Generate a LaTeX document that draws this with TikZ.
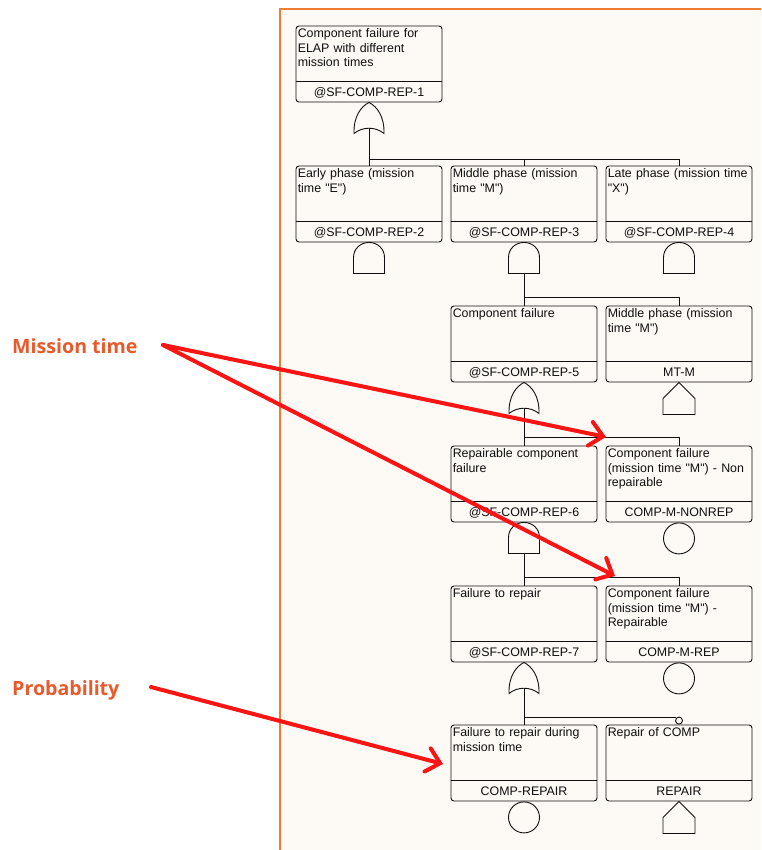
\documentclass[tikz,border=0pt]{standalone}
\usepackage{fontspec}
\newfontfamily\boxfont{Liberation Sans}
\newfontfamily\lblfont{Open Sans}
\usetikzlibrary{calc,arrows.meta}
\definecolor{panelbg}{RGB}{253,249,245}
\definecolor{panelline}{RGB}{237,125,49}
\definecolor{lblcol}{RGB}{232,90,43}
\definecolor{arrowred}{RGB}{250,20,20}
\definecolor{ink}{RGB}{15,15,15}
\tikzset{
 ftbox/.style={draw=ink, line width=0.9pt, rounded corners=3pt, minimum width=146pt, minimum height=76pt, inner sep=0pt, fill=panelbg},
 desc/.style={inner sep=0pt, text width=144pt, align=left, font=\boxfont\fontsize{12.4}{14.3}\selectfont, text=ink},
 idtxt/.style={inner sep=0pt, font=\boxfont\fontsize{12.4}{14.3}\selectfont, text=ink},
 conn/.style={draw=ink, line width=0.9pt},
 gateline/.style={draw=ink, line width=0.9pt, fill=panelbg},
 orgate/.pic={\draw[gateline] (-15,-31) .. controls (-15.5,-14) and (-8,-4) .. (0,0) .. controls (8,-4) and (15.5,-14) .. (15,-31) .. controls (6,-24) and (-6,-24) .. cycle; \coordinate (-out) at (0,-25.8);},
 andgate/.pic={\draw[gateline] (-15.5,-31) -- (-15.5,-15) .. controls (-15.5,-6.4) and (-8.6,0) .. (0,0) .. controls (8.6,0) and (15.5,-6.4) .. (15.5,-15) -- (15.5,-31) -- cycle; \coordinate (-out) at (0,-31);},
 housegate/.pic={\draw[gateline] (0,0) -- (16,-16) -- (16,-32) -- (-16,-32) -- (-16,-16) -- cycle;},
 basicev/.style={draw=ink, line width=0.9pt, circle, minimum size=31pt, inner sep=0pt, anchor=north},
 lbl/.style={inner sep=0pt, font=\lblfont\bfseries\fontsize{19.6}{24}\selectfont, text=lblcol, anchor=base west},
 redarrow/.style={draw=arrowred, line width=4pt, line cap=round, -{Straight Barb[length=13pt,width=24pt,line cap=round]}},
}
\newcommand\ftnode[5]{%
 \node[ftbox] (#1) at (#2,-#3-38) {};
 \draw[conn] ([yshift=21pt]#1.south west) -- ([yshift=21pt]#1.south east);
 \node[desc, anchor=north west] (#1d) at ([xshift=2pt,yshift=-3pt]#1.north west) {#4};
 \node[idtxt, anchor=base] (#1i) at ([yshift=5.5pt]#1.south) {#5};
}
\begin{document}
\begin{tikzpicture}[x=1pt,y=1pt]
\useasboundingbox (0,0) rectangle (761,-850);
\fill[white] (0,0) rectangle (761,-850);
\fill[panelbg] (280,-9) rectangle (761,-850);
\draw[panelline, line width=2pt] (280,-850) -- (280,-8.7) -- (761,-8.7);

% boxes
\ftnode{b1}{369}{26}{Component failure for\\ELAP with different\\mission times}{@SF-COMP-REP-1}
\ftnode{b2}{369}{166}{Early phase (mission\\time "E")}{@SF-COMP-REP-2}
\ftnode{b3}{524}{166}{Middle phase (mission\\time "M")}{@SF-COMP-REP-3}
\ftnode{b4}{679}{166}{Late phase (mission time\\"X")}{@SF-COMP-REP-4}
\ftnode{b5}{524}{306}{Component failure}{@SF-COMP-REP-5}
\ftnode{b6}{679}{306}{Middle phase (mission\\time "M")}{MT-M}
\ftnode{b7}{524}{446}{Repairable component\\failure}{@SF-COMP-REP-6}
\ftnode{b8}{679}{446}{Component failure\\(mission time "M") - Non\\repairable}{COMP-M-NONREP}
\ftnode{b9}{524}{586}{Failure to repair}{@SF-COMP-REP-7}
\ftnode{b10}{679}{586}{Component failure\\(mission time "M") -\\Repairable}{COMP-M-REP}
\ftnode{b11}{524}{725}{Failure to repair during\\mission time}{COMP-REPAIR}
\ftnode{b12}{679}{725}{Repair of COMP}{REPAIR}

% gates and events
\pic (g1) at (b1.south) {orgate};
\pic (g2) at (b2.south) {andgate};
\pic (g3) at (b3.south) {andgate};
\pic (g4) at (b4.south) {andgate};
\pic (g5) at (b5.south) {orgate};
\pic (h6) at (b6.south) {housegate};
\pic (g7) at (b7.south) {andgate};
\node[basicev] (e8) at (b8.south) {};
\pic (g9) at (b9.south) {orgate};
\node[basicev] (e10) at (b10.south) {};
\node[basicev] (e11) at (b11.south) {};
\pic (h12) at (b12.south) {housegate};
\node[draw=ink, line width=0.9pt, circle, minimum size=7pt, inner sep=0pt, anchor=south, fill=panelbg] (inh) at (b12.north) {};

% connectors
\draw[conn] (g1-out) -- (b2.north);
\draw[conn] (g1-out) |- ($(b4.north)+(0,6)$) -- (b4.north);
\draw[conn] ($(b3.north)+(0,6)$) -- (b3.north);
\draw[conn] (g3-out) -- (b5.north);
\draw[conn] (g3-out) |- ($(b6.north)+(0,8)$) -- (b6.north);
\draw[conn] (g5-out) -- (b7.north);
\draw[conn] (g5-out) |- ($(b8.north)+(0,8)$) -- (b8.north);
\draw[conn] (g7-out) -- (b9.north);
\draw[conn] (g7-out) |- ($(b10.north)+(0,8)$) -- (b10.north);
\draw[conn] (g9-out) -- (b11.north);
\draw[conn] (g9-out) |- (inh.north west);

% labels and red arrows
\node[lbl] (mt) at (12,-353) {Mission time};
\node[lbl] (pr) at (12,-695) {Probability};
\coordinate (mts) at (163,-345);
\coordinate (prs) at (151,-687);
\coordinate (t1) at (606,-437);
\coordinate (t2) at (615,-576);
\coordinate (t3) at (443,-764);
\draw[redarrow] (mts) -- (t1);
\draw[redarrow] (mts) -- (t2);
\draw[redarrow] (prs) -- (t3);
\end{tikzpicture}
\end{document}
